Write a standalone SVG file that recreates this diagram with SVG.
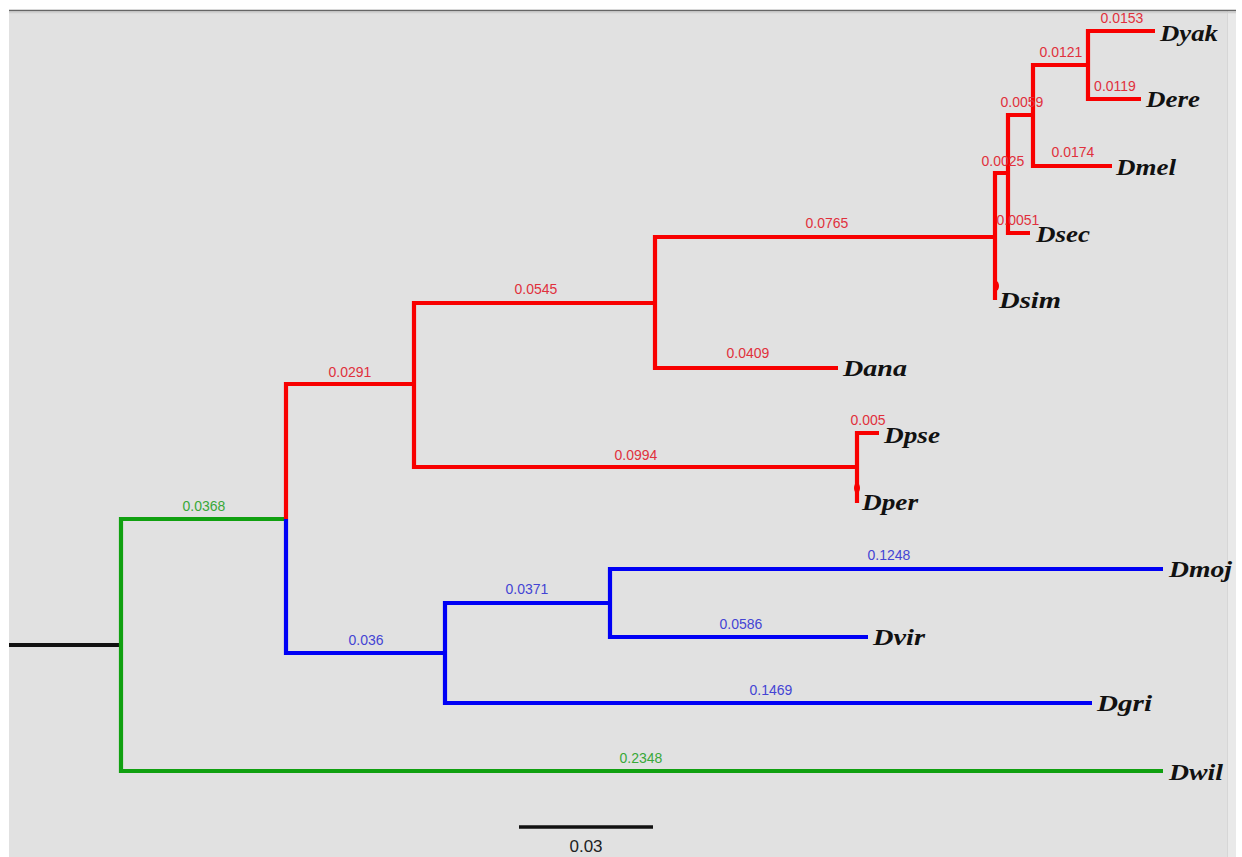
<svg xmlns="http://www.w3.org/2000/svg" width="1242" height="857" viewBox="0 0 1242 857">
<style>
.br{fill:none;stroke-width:4.2;stroke-linejoin:miter;stroke-linecap:butt}
.r{stroke:#f80000}
.b{stroke:#0000f5}
.g{stroke:#10a010}
.k{stroke:#111}
.lr,.lb,.lg{font-family:"Liberation Sans",Arial,sans-serif;font-size:14px;text-anchor:middle}
.lr{fill:#e0303c}
.lb{fill:#4444d4}
.lg{fill:#38a838}
.sp{font-family:"Liberation Serif","Times New Roman",serif;font-size:24px;font-weight:bold;font-style:italic;fill:#111}
</style>
<rect x="0" y="0" width="1242" height="857" fill="#ffffff"/>
<rect x="9" y="10" width="1227" height="847" fill="#e1e1e1"/>
<rect x="1228" y="11" width="8" height="846" fill="#e9e9e9"/>
<line x1="1227.5" y1="11" x2="1227.5" y2="857" stroke="#d6d6d6" stroke-width="1"/>
<line x1="9" y1="10.5" x2="1236" y2="10.5" stroke="#666666" stroke-width="1.5"/>
<line x1="9" y1="12.5" x2="1236" y2="12.5" stroke="#d0d0d0" stroke-width="1.5"/>

<g id="connectors">
<path class="br k" d="M9,645 H121"/>
<path class="br g" d="M121,645 V519 H286"/>
<path class="br g" d="M121,645 V771 H1163"/>
<path class="br r" d="M286,519 V384 H414"/>
<path class="br b" d="M286,519 V653 H445"/>
<path class="br r" d="M414,384 V303 H655"/>
<path class="br r" d="M414,384 V467 H857"/>
<path class="br r" d="M655,303 V237 H995"/>
<path class="br r" d="M655,303 V368 H838"/>
<path class="br r" d="M995,237 V173 H1008"/>
<path class="br r" d="M995,237 V300"/>
<ellipse cx="996" cy="286" rx="3" ry="5" fill="#f80000"/>
<path class="br r" d="M1008,173 V115 H1033"/>
<path class="br r" d="M1008,173 V233 H1030"/>
<path class="br r" d="M1033,115 V65 H1088"/>
<path class="br r" d="M1033,115 V166 H1112"/>
<path class="br r" d="M1088,65 V31 H1155"/>
<path class="br r" d="M1088,65 V99 H1141"/>
<path class="br r" d="M857,467 V433 H879"/>
<path class="br r" d="M857,467 V503"/>
<ellipse cx="857" cy="488" rx="3" ry="5" fill="#f80000"/>
<path class="br b" d="M445,653 V603 H610"/>
<path class="br b" d="M445,653 V703 H1092"/>
<path class="br b" d="M610,603 V569 H1163"/>
<path class="br b" d="M610,603 V637 H868"/>

<text class="lg" x="204" y="511">0.0368</text>
<text class="lg" x="641" y="763">0.2348</text>
<text class="lr" x="350" y="377">0.0291</text>
<text class="lr" x="536" y="294">0.0545</text>
<text class="lr" x="636" y="460">0.0994</text>
<text class="lr" x="827" y="228">0.0765</text>
<text class="lr" x="748" y="358">0.0409</text>
<text class="lr" x="1003" y="166">0.0025</text>
<text class="lr" x="1022" y="107">0.0059</text>
<text class="lr" x="1018" y="225">0.0051</text>
<text class="lr" x="1061" y="57">0.0121</text>
<text class="lr" x="1073" y="157">0.0174</text>
<text class="lr" x="1122" y="23">0.0153</text>
<text class="lr" x="1115" y="91">0.0119</text>
<text class="lr" x="868" y="425">0.005</text>
<text class="lb" x="366" y="645">0.036</text>
<text class="lb" x="527" y="594">0.0371</text>
<text class="lb" x="889" y="560">0.1248</text>
<text class="lb" x="741" y="629">0.0586</text>
<text class="lb" x="771" y="695">0.1469</text>
</g>

<g id="Dyak"><text class="sp" x="1160" y="41" textLength="58" lengthAdjust="spacingAndGlyphs">Dyak</text></g>
<g id="Dere"><text class="sp" x="1146" y="107" textLength="54" lengthAdjust="spacingAndGlyphs">Dere</text></g>
<g id="Dmel"><text class="sp" x="1116" y="175" textLength="60" lengthAdjust="spacingAndGlyphs">Dmel</text></g>
<g id="Dsec"><text class="sp" x="1036" y="242" textLength="54" lengthAdjust="spacingAndGlyphs">Dsec</text></g>
<g id="Dsim"><text class="sp" x="999" y="308" textLength="62" lengthAdjust="spacingAndGlyphs">Dsim</text></g>
<g id="Dana"><text class="sp" x="843" y="376" textLength="64" lengthAdjust="spacingAndGlyphs">Dana</text></g>
<g id="Dpse"><text class="sp" x="884" y="443" textLength="56" lengthAdjust="spacingAndGlyphs">Dpse</text></g>
<g id="Dper"><text class="sp" x="862" y="510" textLength="56" lengthAdjust="spacingAndGlyphs">Dper</text></g>
<g id="Dmoj"><text class="sp" x="1169" y="577" textLength="63" lengthAdjust="spacingAndGlyphs">Dmoj</text></g>
<g id="Dvir"><text class="sp" x="873" y="645" textLength="52" lengthAdjust="spacingAndGlyphs">Dvir</text></g>
<g id="Dgri"><text class="sp" x="1097" y="711" textLength="55" lengthAdjust="spacingAndGlyphs">Dgri</text></g>
<g id="Dwil"><text class="sp" x="1169" y="780" textLength="54" lengthAdjust="spacingAndGlyphs">Dwil</text></g>

<g id="scale">
<path d="M519,827 H653" stroke="#111" stroke-width="3.5" fill="none"/>
<text x="586" y="852" font-family="'Liberation Sans',Arial,sans-serif" font-size="17" fill="#222" text-anchor="middle">0.03</text>
</g>
</svg>
